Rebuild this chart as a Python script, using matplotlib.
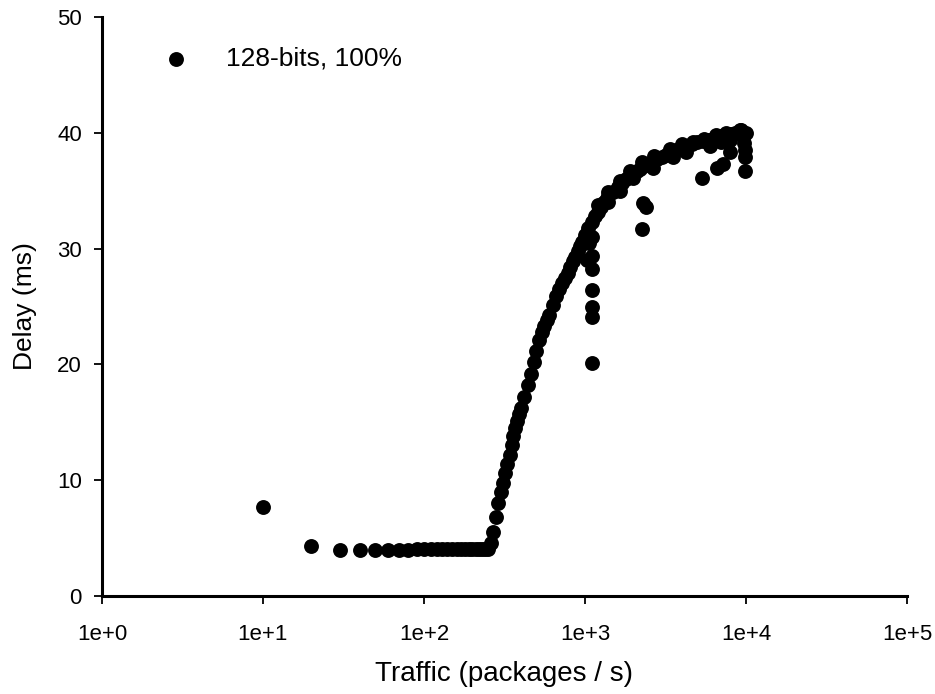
import matplotlib
matplotlib.use("Agg")
import matplotlib.pyplot as plt

# Main trend of the measurements
traffic = [10, 20, 30, 40, 50, 60, 70, 80, 90, 100, 110, 120, 130, 140, 150,
           160, 170, 180, 190, 200, 210, 220, 230, 240, 250, 260, 270, 280,
           290, 300, 310, 320, 330, 340, 350, 360, 370, 380, 390, 400, 420,
           440, 460, 480, 500, 520, 540, 560, 580, 600, 630, 660, 690, 720,
           750, 780, 810, 840, 870, 900, 930, 960, 1000, 1050, 1100, 1150,
           1200, 1250, 1300, 1350, 1400, 1500, 1600, 1700, 1800, 1900, 2000,
           2100, 2200, 2300, 2400, 2500, 2600, 2800, 3000, 3200, 3400, 3700,
           4000, 4300, 4600, 5000, 5400, 5800, 6200, 6600, 7000, 7500, 8000,
           8500, 9000, 9500, 10000]
delay = [7.7, 4.3, 4.0, 4.0, 4.0, 4.0, 4.0, 4.0, 4.05, 4.1, 4.1, 4.1, 4.1,
         4.1, 4.1, 4.1, 4.1, 4.1, 4.1, 4.1, 4.1, 4.1, 4.1, 4.1, 4.1, 4.6,
         5.5, 6.8, 8.0, 9.0, 9.8, 10.6, 11.4, 12.2, 13.0, 13.8, 14.5, 15.1,
         15.7, 16.2, 17.2, 18.2, 19.2, 20.2, 21.2, 22.1, 22.8, 23.3, 23.8,
         24.3, 25.1, 25.9, 26.5, 27.0, 27.5, 27.9, 28.4, 28.9, 29.3, 29.8,
         30.2, 30.6, 31.2, 31.8, 32.3, 32.8, 33.2, 33.6, 33.9, 34.2, 34.5,
         34.9, 35.3, 35.7, 36.0, 36.3, 36.5, 36.7, 36.9, 37.1, 37.2, 37.3,
         37.5, 37.7, 37.9, 38.1, 38.3, 38.5, 38.7, 38.9, 39.0, 39.2, 39.3,
         39.4, 39.5, 39.6, 39.7, 39.8, 39.9, 40.0, 40.0, 40.1, 40.0]

# Scattered measurements around / away from the trend
traffic_extra = [1030, 1060, 1100, 1110, 1100, 1110, 1100, 1100, 1110,
                 2250, 2300, 2400, 5300, 6600, 7200, 8000, 9800, 9800, 9700,
                 9300, 9900,
                 1200, 1400, 1650, 1900, 2270, 2700, 3370, 4000, 4690, 5500,
                 6540, 7500, 9140,
                 1400, 1650, 2000, 2660, 3500, 4270, 5950, 7000, 8000]
delay_extra = [29.0, 30.5, 31.0, 29.4, 28.2, 26.4, 25.0, 24.1, 20.1,
               31.7, 33.9, 33.6, 36.1, 37.0, 37.3, 38.3, 36.7, 37.9, 39.1,
               40.2, 38.5,
               33.8, 34.9, 35.8, 36.7, 37.5, 38.0, 38.6, 39.0, 39.2, 39.5,
               39.8, 40.0, 40.2,
               34.0, 35.0, 36.1, 37.0, 37.9, 38.3, 38.9, 39.2, 39.4]

x_ticks = [1, 10, 100, 1000, 10000, 100000]
x_tick_labels = ["1e+0", "1e+1", "1e+2", "1e+3", "1e+4", "1e+5"]
y_ticks = [0, 10, 20, 30, 40, 50]

plt.rcParams['font.family'] = ['Liberation Sans', 'DejaVu Sans']

fig = plt.figure(figsize=(9.35, 6.94), dpi=100)
ax = fig.add_axes([0.109, 0.1412, 0.861, 0.8343])

ax.scatter(traffic, delay, s=115, color='black', linewidths=0,
           label='128-bits, 100%', zorder=3)
ax.scatter(traffic_extra, delay_extra, s=115, color='black', linewidths=0,
           zorder=3)

ax.set_xscale('log')
ax.set_xlim(1, 100000)
ax.set_ylim(0, 50)
ax.set_xticks(x_ticks)
ax.set_xticklabels(x_tick_labels)
ax.minorticks_off()
ax.set_yticks(y_ticks)

for side in ['top', 'right']:
    ax.spines[side].set_visible(False)
for side in ['left', 'bottom']:
    ax.spines[side].set_linewidth(2.2)

ax.tick_params(axis='both', direction='out', length=6, width=1.3,
               labelsize=16, colors='black')
ax.tick_params(axis='x', pad=14)
ax.tick_params(axis='y', pad=8.5)

ax.set_xlabel('Traffic (packages / s)', fontsize=20, labelpad=12)
ax.set_ylabel('Delay (ms)', fontsize=19, labelpad=14)

leg = ax.legend(loc='upper left', bbox_to_anchor=(0.03, 0.99), frameon=False,
                fontsize=19, handletextpad=0.9, markerscale=1.0,
                scatterpoints=1)

fig.savefig('out.png', dpi=100, facecolor='white')
